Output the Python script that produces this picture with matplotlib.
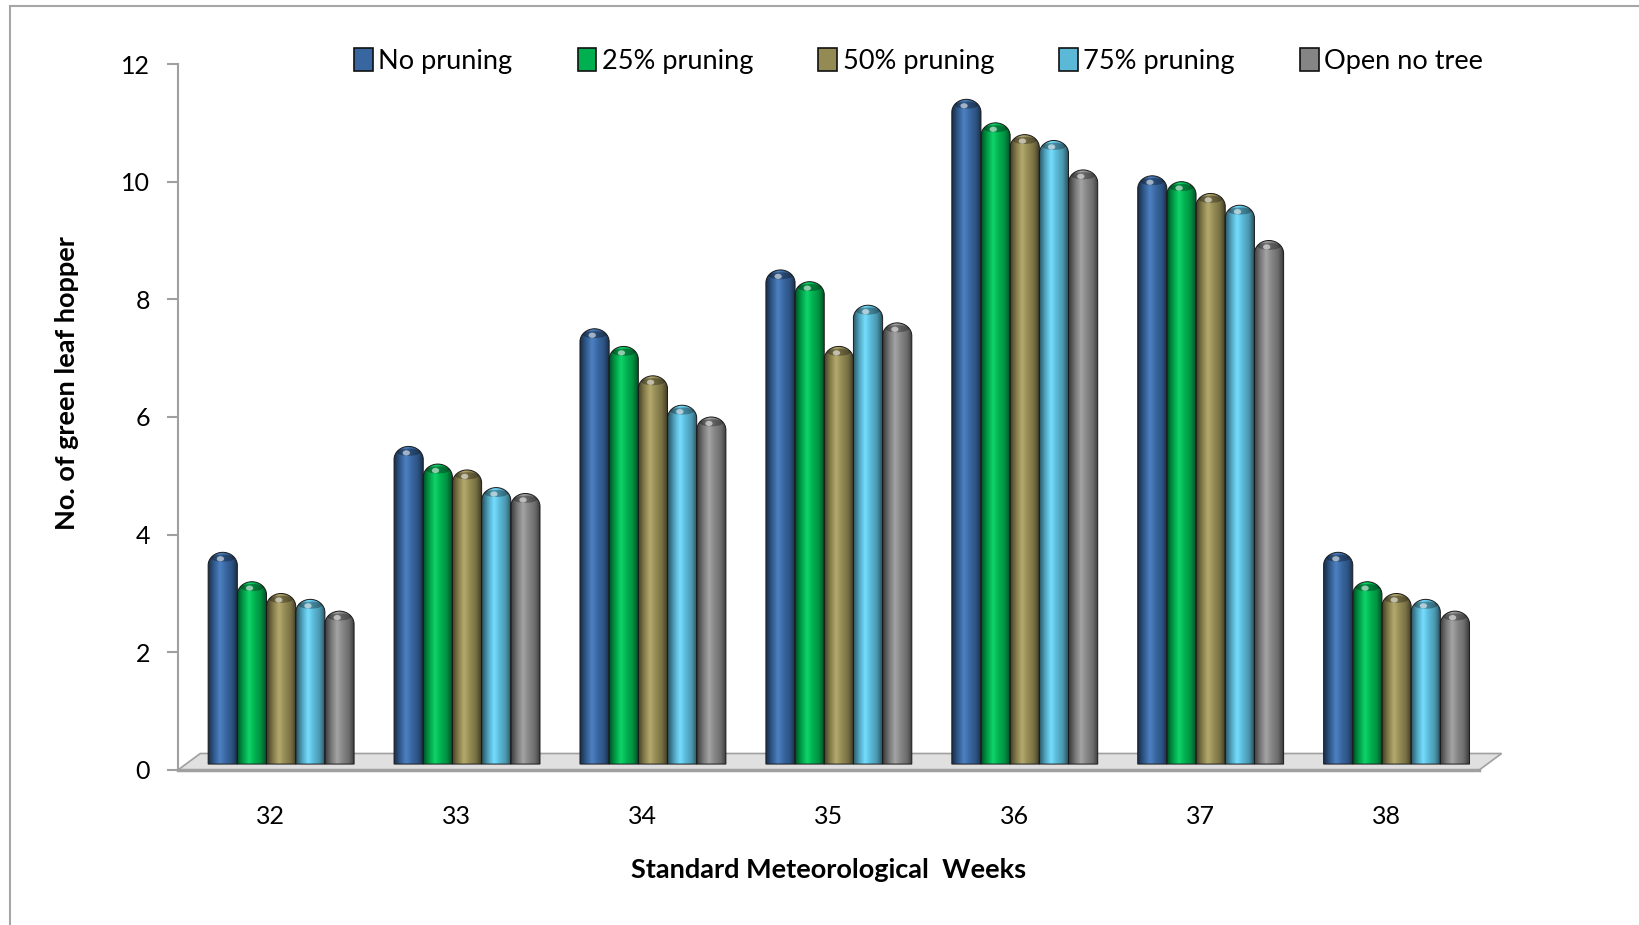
"""
Число зелёной цикадки по стандартным метеорологическим неделям.
"""

import numpy as np
import matplotlib.pyplot as plt
from matplotlib.colors import LinearSegmentedColormap, to_rgb
from matplotlib.patches import Patch, PathPatch, Polygon, Ellipse, Rectangle
from matplotlib.path import Path

weeks = ['32', '33', '34', '35', '36', '37', '38']
series_names = ['No pruning', '25% pruning', '50% pruning', '75% pruning', 'Open no tree']
no_pruning = [3.6, 5.4, 7.4, 8.4, 11.3, 10.0, 3.6]
pruning_25 = [3.1, 5.1, 7.1, 8.2, 10.9, 9.9, 3.1]
pruning_50 = [2.9, 5.0, 6.6, 7.1, 10.7, 9.7, 2.9]
pruning_75 = [2.8, 4.7, 6.1, 7.8, 10.6, 9.5, 2.8]
open_no_tree = [2.6, 4.6, 5.9, 7.5, 10.1, 8.9, 2.6]
series = [no_pruning, pruning_25, pruning_50, pruning_75, open_no_tree]
colors = ['#3866a0', '#00b050', '#948a54', '#5bb8d6', '#858585']

plt.rcParams['font.family'] = ['Lato', 'DejaVu Sans']

fig = plt.figure(figsize=(16.4, 9.25), dpi=100)
ax = fig.add_axes([0.1085, 0.1676, 0.7935, 0.7632])

# рамка вокруг области диаграммы
fig.patches.append(Rectangle((0.006, -0.1), 1.2, 1.094, transform=fig.transFigure,
                             fill=False, edgecolor='#a6a6a6', linewidth=1.5))

n = len(series)
width = 0.157
x = np.arange(len(weeks))

ax.set_xlim(-0.5, len(weeks) - 0.5)
ax.set_ylim(0, 12)

# "пол" под столбцами (псевдо-3D)
depth_x, depth_y = 0.12, 0.28
floor = Polygon([(-0.5, 0), (len(weeks) - 0.5, 0),
                 (len(weeks) - 0.5 + depth_x, depth_y), (-0.5 + depth_x, depth_y)],
                closed=True, facecolor='#e0e0e0', edgecolor='#a0a0a0',
                linewidth=1.2, clip_on=False, zorder=1)
ax.add_patch(floor)
ax.plot([-0.5, len(weeks) - 0.5], [0, 0], color='#a0a0a0', lw=2.5,
        clip_on=False, zorder=1.5)

# столбцы стоят в середине глубины пола
shift_x = 0.055
base_y = 0.1


def cylinder_cmap(color):
    base = np.array(to_rgb(color))
    dark = base * 0.45
    light = np.clip(base * 1.12 + 0.06, 0, 1)
    return LinearSegmentedColormap.from_list(
        'cyl', [dark, base * 0.88, light, base, base * 0.82, dark * 0.9])


grad = np.linspace(0, 1, 128).reshape(1, -1)
cap_h = 0.22

for i, (vals, color) in enumerate(zip(series, colors)):
    offset = (i - (n - 1) / 2) * width + shift_x
    bars = ax.bar(x + offset, vals, width, bottom=base_y, color=color, alpha=0, zorder=2)
    cmap = cylinder_cmap(color)
    for bar in bars:
        x0 = bar.get_x()
        w = bar.get_width()
        y0 = bar.get_y()
        top = y0 + bar.get_height()
        body = top - cap_h
        # контур цилиндра со скруглённой верхушкой
        k = 0.5523
        verts = [(x0, y0), (x0 + w, y0), (x0 + w, body),
                 (x0 + w, body + cap_h * k), (x0 + w / 2 + w / 2 * k, top), (x0 + w / 2, top),
                 (x0 + w / 2 - w / 2 * k, top), (x0, body + cap_h * k), (x0, body),
                 (x0, y0)]
        codes = [Path.MOVETO, Path.LINETO, Path.LINETO,
                 Path.CURVE4, Path.CURVE4, Path.CURVE4,
                 Path.CURVE4, Path.CURVE4, Path.CURVE4, Path.CLOSEPOLY]
        shape = PathPatch(Path(verts, codes), facecolor='none',
                          edgecolor='#1a1a1a', linewidth=0.7, zorder=3.5)
        ax.add_patch(shape)
        img = ax.imshow(grad, cmap=cmap, extent=[x0, x0 + w, y0, top],
                        aspect='auto', zorder=3, interpolation='bicubic')
        img.set_clip_path(shape)
        # тёмный ободок и блик на верхушке
        rim = Ellipse((x0 + w / 2, top - cap_h * 0.45), w * 0.8, cap_h * 0.55,
                      facecolor='black', alpha=0.3, zorder=3.6, linewidth=0)
        ax.add_patch(rim)
        spot = Ellipse((x0 + w * 0.42, top - cap_h * 0.5), w * 0.25, cap_h * 0.4,
                       facecolor='white', alpha=0.55, zorder=3.7, linewidth=0)
        ax.add_patch(spot)

ax.set_xticks(x)
ax.set_xticklabels(weeks, fontsize=18)
ax.set_yticks(np.arange(0, 13, 2))
ax.tick_params(axis='y', labelsize=18, length=8, width=1.5, color='#a0a0a0', pad=12)
ax.tick_params(axis='x', length=0, pad=25)

for side in ['top', 'right', 'bottom']:
    ax.spines[side].set_visible(False)
ax.spines['left'].set_color('#a0a0a0')
ax.spines['left'].set_linewidth(1.5)

ax.set_ylabel('No. of green leaf hopper', fontsize=19.5, fontweight='bold',
              labelpad=30, y=0.548)
ax.set_xlabel('Standard Meteorological  Weeks', fontsize=19.5, fontweight='bold', labelpad=22)

handles = [Patch(facecolor=c, edgecolor='#111111', linewidth=1.2) for c in colors]
fig.legend(handles, series_names, loc='center left', bbox_to_anchor=(0.201, 0.934),
           ncol=5, frameon=False, fontsize=19.5, handlelength=0.7, handleheight=0.95,
           handletextpad=0.2, columnspacing=2.4)

plt.savefig('out.png', dpi=100)
plt.close()
